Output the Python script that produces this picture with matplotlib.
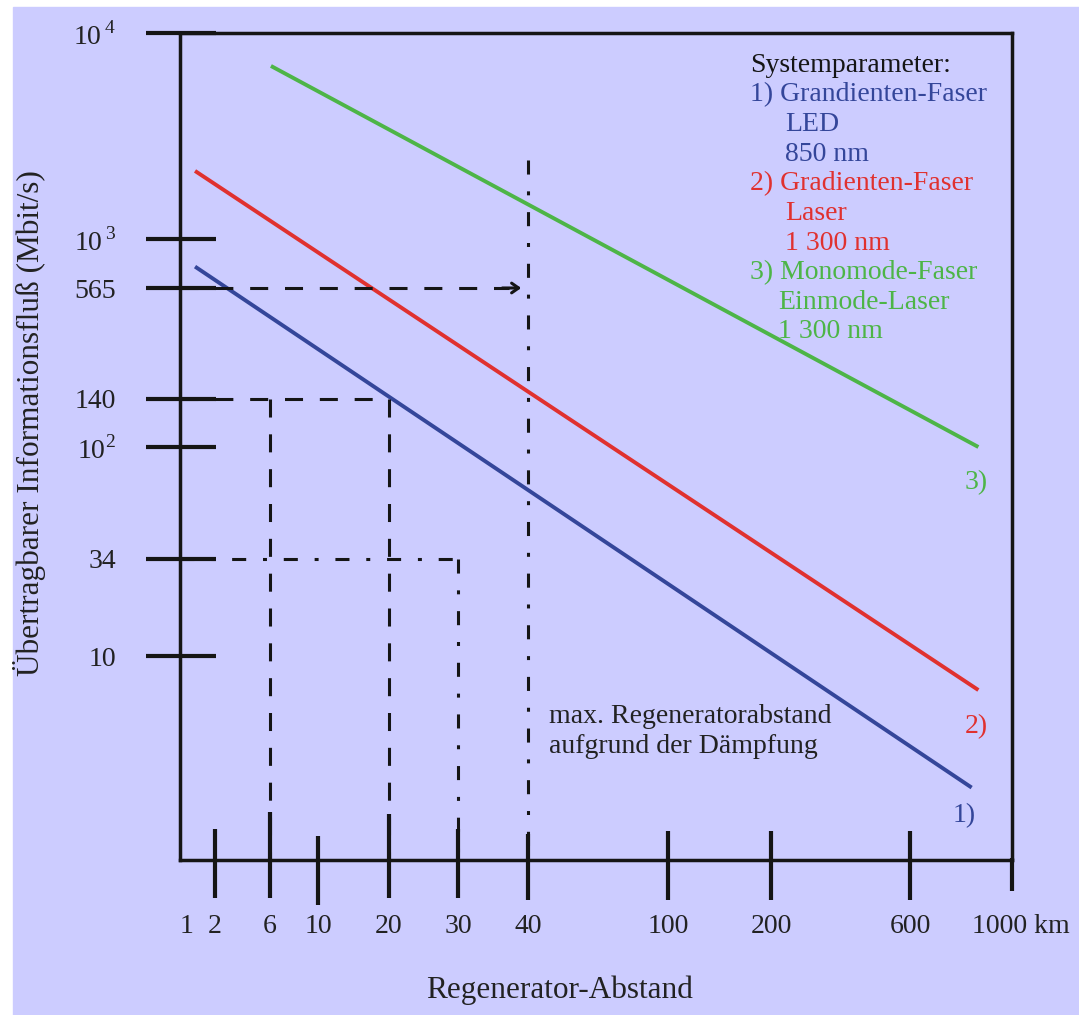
import numpy as np
import matplotlib
matplotlib.use("Agg")
import matplotlib.pyplot as plt
import matplotlib.transforms as mtransforms
from matplotlib.patches import Rectangle

plt.rcParams['font.family'] = ['Liberation Serif', 'DejaVu Serif']
plt.rcParams['mathtext.fontset'] = 'custom'
plt.rcParams['mathtext.rm'] = 'Liberation Serif'

# --- Daten ---
x_ticks = [1, 2, 6, 10, 20, 30, 40, 100, 200, 600, 1000]
x_labels = ['1', '2', '6', '10', '20', '30', '40', '100', '200', '600', '1000 km']
y_ticks = [10, 34, 100, 140, 565, 1000, 10000]
y_labels = ['10', '34', r'$\mathrm{10}^{\mathrm{2}}$', '140', '565',
            r'$\mathrm{10}^{\,\mathrm{3}}$', r'$\mathrm{10}^{\,\mathrm{4}}$']

# Geraden: (km, Mbit/s) Anfangs- und Endpunkt
led_km = [1.22, 817]
led_rate = [725, 2.33]
laser_km = [1.22, 845]
laser_rate = [2140, 6.86]
mono_km = [6.06, 845]
mono_rate = [6920, 100]

# Hilfslinien
d140_km, d140_rate = 20, 140
d140b_km = 6
d34_km, d34_rate = 30, 34
d565_km, d565_rate = 40, 565
v40_top = 2420

legend_lines = [
    ('Systemparameter:', 'k', 0),
    ('1) Grandienten-Faser', 'blue', 0),
    ('LED', 'blue', 1),
    ('850 nm', 'blue', 1),
    ('2) Gradienten-Faser', 'red', 0),
    ('Laser', 'red', 1),
    ('1 300 nm', 'red', 1),
    ('3) Monomode-Faser', 'green', 0),
    ('Einmode-Laser', 'green', 2),
    ('1 300 nm', 'green', 2),
]

# --- Layout: Lage der Skalenstriche im Bild (Pixel ab Achsenrand) ---
x_anchor_val = [0.5, 1, 2, 6, 10, 20, 30, 40, 100, 200, 600, 1000, 2000]
x_anchor_px = [-21, 7, 35, 90, 138, 209, 278, 348, 488, 591, 730, 832, 934]
y_anchor_val = [1, 10, 34, 100, 140, 565, 1000, 10000, 100000]
y_anchor_px = [-4, 204, 301, 413, 461, 572, 621, 827, 1033]

xl = np.log10(x_anchor_val)
yl = np.log10(y_anchor_val)


def fx(v):
    return np.interp(np.log10(np.clip(v, 1e-9, None)), xl, x_anchor_px)


def ix(p):
    return 10 ** np.interp(p, x_anchor_px, xl)


def fy(v):
    return np.interp(np.log10(np.clip(v, 1e-9, None)), yl, y_anchor_px)


def iy(p):
    return 10 ** np.interp(p, y_anchor_px, yl)


colors = {'blue': '#34469a', 'red': '#e0312f', 'green': '#4db547', 'k': '#151515'}
bg = '#ccccff'

W, H = 1079, 1015
fig = plt.figure(figsize=(W / 100, H / 100), dpi=100, facecolor='white')
fig.patches.append(Rectangle((13 / W, 0), 1, (H - 7) / H, transform=fig.transFigure,
                             color=bg, zorder=-10))

ax = fig.add_axes([180 / W, (H - 860) / H, 832 / W, 827 / H])
ax.set_facecolor('none')
ax.set_xscale('function', functions=(fx, ix))
ax.set_yscale('function', functions=(fy, iy))
x0 = float(ix(0))
y0 = float(iy(0))
ax.set_xlim(x0, 1000)
ax.set_ylim(y0, 10000)

for s in ax.spines.values():
    s.set_linewidth(2.5)
    s.set_color(colors['k'])

fs = 20
fs_title = 22.5
ax.set_xticks(x_ticks, x_labels, fontsize=fs, color='#222222')
ax.set_yticks(y_ticks, y_labels, fontsize=fs, color='#222222')
ax.minorticks_off()
ax.tick_params(axis='x', length=0, pad=39)
ax.tick_params(axis='y', length=0, pad=46)
lbl = ax.get_xticklabels()[-1]
lbl.set_transform(lbl.get_transform() + mtransforms.ScaledTranslation(0.09, 0, fig.dpi_scale_trans))

# Skalenstriche von Hand (durchgehend über die Achse)
k = colors['k']
ax.hlines(y_ticks, -34 / 832, 36 / 832, transform=ax.get_yaxis_transform(),
          color=k, lw=3.0, clip_on=False, zorder=5)
tick_span = {2: (-38, 31), 6: (-38, 48), 10: (-45, 24), 20: (-38, 46), 30: (-38, 31),
             40: (-40, 26), 100: (-40, 29), 200: (-40, 29), 600: (-40, 29), 1000: (-31, 2)}
for xv, (lo, hi) in tick_span.items():
    ax.vlines(xv, lo / 827, hi / 827, transform=ax.get_xaxis_transform(),
              color=k, lw=3.0, clip_on=False, zorder=5)

# Kennlinien
ax.plot(led_km, led_rate, color=colors['blue'], lw=2.8, solid_capstyle='butt')
ax.plot(laser_km, laser_rate, color=colors['red'], lw=2.8, solid_capstyle='butt')
ax.plot(mono_km, mono_rate, color=colors['green'], lw=2.8, solid_capstyle='butt')

# Hilfslinien
lw_d = 2.2
dash = (0, (5.9, 5.5))
dashdot = (0, (4.6, 5.5, 1.3, 5.5))
ax.plot([x0, d140_km], [d140_rate, d140_rate], color=k, lw=lw_d, ls=dash)
ax.plot([d140_km, d140_km], [d140_rate, y0], color=k, lw=lw_d, ls=dash)
ax.plot([d140b_km, d140b_km], [d140_rate, y0], color=k, lw=lw_d, ls=dash)
ax.plot([x0, d34_km], [d34_rate, d34_rate], color=k, lw=lw_d, ls=dashdot)
ax.plot([d34_km, d34_km], [d34_rate, y0], color=k, lw=lw_d, ls=dashdot)
ax.plot([d565_km, d565_km], [v40_top, y0], color=k, lw=lw_d, ls=dashdot)
ax.plot([x0, 37], [d565_rate, d565_rate], color=k, lw=lw_d, ls=dash)
ax.annotate('', xy=(38.9, d565_rate), xytext=(36, d565_rate),
            arrowprops=dict(arrowstyle='->,head_length=0.5,head_width=0.35',
                            color=k, lw=lw_d, shrinkA=0, shrinkB=0))

# Beschriftungen
ax.text(0.443, 0.155, 'max. Regeneratorabstand\naufgrund der Dämpfung',
        transform=ax.transAxes, fontsize=fs, color='#222222',
        ha='left', va='center', linespacing=1.25)
ax.text(0.957, 0.456, '3)', transform=ax.transAxes, fontsize=fs,
        color=colors['green'], ha='center', va='center')
ax.text(0.957, 0.161, '2)', transform=ax.transAxes, fontsize=fs,
        color=colors['red'], ha='center', va='center')
ax.text(0.942, 0.054, '1)', transform=ax.transAxes, fontsize=fs,
        color=colors['blue'], ha='center', va='center')

indent = [0, 35 / 832, 28 / 832]
for i, (txt, c, ind) in enumerate(legend_lines):
    ax.text(570 / 832 + indent[ind], (788 - i * 29.6) / 827, txt,
            transform=ax.transAxes, fontsize=fs, color=colors[c],
            ha='left', va='baseline')

fig.text(560 / W, 1 - 990 / H, 'Regenerator-Abstand', fontsize=fs_title,
         color='#222222', ha='center', va='center')
fig.text(30 / W, 1 - 423 / H, 'Übertragbarer Informationsfluß (Mbit/s)',
         fontsize=fs_title, color='#222222', ha='center', va='center', rotation=90)

fig.savefig('out.png', dpi=100, facecolor=fig.get_facecolor())
